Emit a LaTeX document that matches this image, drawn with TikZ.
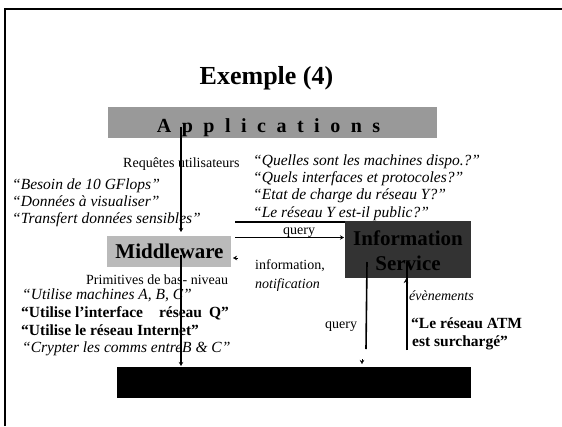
\documentclass[tikz,border=0pt]{standalone}
\usepackage{fontspec}
\setmainfont{Liberation Serif}
\usetikzlibrary{arrows.meta}
\begin{document}
\begin{tikzpicture}[x=1pt,y=-1pt,
  txt/.style={inner sep=0pt, anchor=base west, font=\fontsize{15.5}{17}\selectfont},
  ittxt/.style={txt, font=\fontsize{15.5}{17}\selectfont\itshape},
  bftxt/.style={txt, font=\fontsize{15.5}{17}\selectfont\bfseries},
  smalltxt/.style={txt, font=\fontsize{14}{16}\selectfont},
  smallit/.style={txt, font=\fontsize{14}{16}\selectfont\itshape},
  boxtitle/.style={inner sep=0pt, anchor=base, font=\fontsize{21}{24}\selectfont\bfseries},
  layer/.style={inner sep=0pt, anchor=north west, draw=none},
  link/.style={line width=1.6pt},
  tip/.style={-{Stealth[length=4pt,width=4.5pt]}},
]
\useasboundingbox (0,0) rectangle (562,426);

% slide frame
\draw[line width=2.5pt] (5,426) -- (5,9) -- (562,9);

% title
\node[inner sep=0pt, anchor=base, font=\fontsize{26}{30}\selectfont\bfseries] (title) at (266.5,84) {Exemple (4)};

% layers
\node[layer, fill=black!40, minimum width=329pt, minimum height=31pt] (apps) at (108,107) {};
\node[inner sep=0pt, anchor=base, font=\fontsize{20}{24}\selectfont\bfseries] (appstxt) at (268.5,132)
  {A\hspace{10.5pt}p\hspace{10.5pt}p\hspace{10.5pt}l\hspace{10.5pt}i\hspace{10.5pt}c\hspace{10.5pt}a\hspace{10.5pt}t\hspace{10.5pt}i\hspace{10.5pt}o\hspace{10.5pt}n\hspace{10.5pt}s};

\node[layer, fill=black!27, minimum width=124pt, minimum height=31pt] (mw) at (107,236) {};
\node[boxtitle] (mwtxt) at (169.5,258) {Middleware};

\node[layer, fill=black!80, minimum width=126pt, minimum height=57pt] (is) at (345,221) {};
\node[boxtitle] (istxt1) at (408,245) {Information};
\node[boxtitle] (istxt2) at (408,270) {Service};

\node[layer, fill=black, minimum width=354pt, minimum height=31pt] (low) at (117,367) {};

% user requests
\node[smalltxt] (req) at (123,167) {Requêtes utilisateurs};
\node[ittxt] (l1) at (12,189) {“Besoin de 10 GFlops”};
\node[ittxt] (l2) at (12,206) {“Données à visualiser”};
\node[ittxt] (l3) at (12,223) {“Transfert données sensibles”};

% questions to the information service
\node[ittxt] (q1) at (253,165) {“Quelles sont les machines dispo.?”};
\node[ittxt] (q2) at (253,182) {“Quels interfaces et protocoles?”};
\node[ittxt] (q3) at (253,199) {“Etat de charge du réseau Y?”};
\node[ittxt] (q4) at (253,217) {“Le réseau Y est-il public?”};

\node[smalltxt] (qry1) at (283,234) {query};
\node[smalltxt] (info) at (255,269) {information,};
\node[smallit] (notif) at (255,288) {notification};

% low-level primitives
\node[smalltxt] (prim) at (86,284.5) {Primitives de bas- niveau};
\node[ittxt] (p1) at (22,299.5) {“Utilise machines A, B, C”};
\node[bftxt] (p2) at (21,317) {“Utilise l’interface\hspace{16pt}réseau\hspace{7pt}Q”};
\node[bftxt] (p3) at (21,335) {“Utilise le réseau Internet”};
\node[ittxt] (p4) at (22,352) {“Crypter les comms entreB \& C”};

% events from the network
\node[smalltxt] (qry2) at (325,328) {query};
\node[smallit] (evt) at (409,300) {évènements};
\node[bftxt] (e1) at (411,328) {“Le réseau ATM};
\node[bftxt] (e2) at (412,346) {est surchargé”};

% connectors
\coordinate (reqA) at (181,127);
\coordinate (reqB) at (181,232);
\draw[link,tip] (reqA) -- (reqB);

\coordinate (primA) at (181,255);
\coordinate (primB) at (181,366);
\draw[link,tip] (primA) -- (primB);

\coordinate (upA) at (235,221.7);
\coordinate (upB) at (345,221.7);
\draw[link] (upA) -- (upB);

\coordinate (qA) at (235,237.5);
\coordinate (qB) at (344,237.5);
\draw[link,tip] (qA) -- (qB);

\coordinate (notA) at (238,258);
\coordinate (notB) at (233,258);
\draw[tip] (notA) -- (notB);

\coordinate (qdA) at (367,262);
\coordinate (qdB) at (366,349);
\draw[link] (qdA) -- (qdB);
\coordinate (qdC) at (362,359);
\coordinate (qdD) at (362,364);
\draw[tip] (qdC) -- (qdD);

\coordinate (evA) at (407,350);
\coordinate (evB) at (407,262);
\draw[link] (evA) -- (evB);
\coordinate (evC) at (406,284);
\coordinate (evD) at (406,279);
\draw[tip] (evC) -- (evD);
\end{tikzpicture}
\end{document}
